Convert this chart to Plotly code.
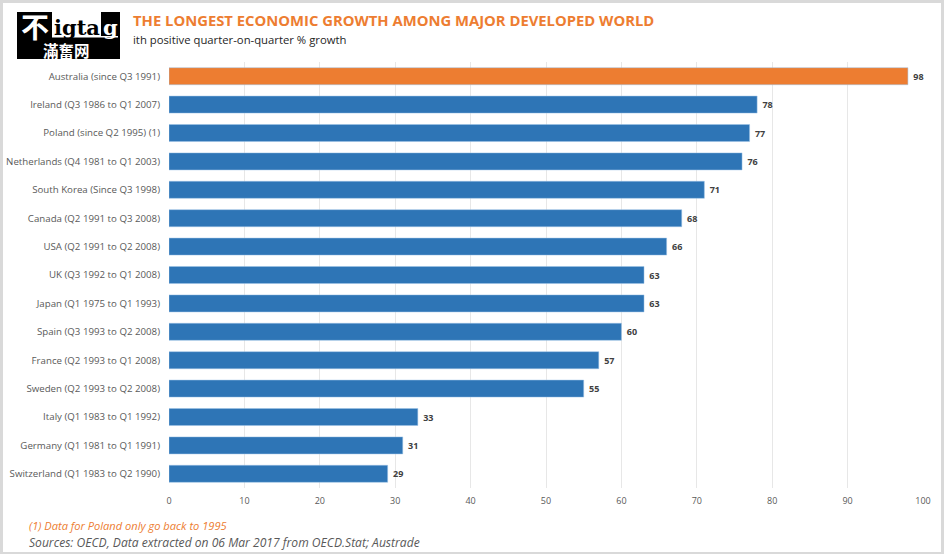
import plotly.graph_objects as go

categories = ["Australia (since Q3 1991)", "Ireland (Q3 1986 to Q1 2007)", "Poland (since Q2 1995) (1)",
              "Netherlands (Q4 1981 to Q1 2003)", "South Korea (Since Q3 1998)", "Canada (Q2 1991 to Q3 2008)",
              "USA (Q2 1991 to Q2 2008)", "UK (Q3 1992 to Q1 2008)", "Japan (Q1 1975 to Q1 1993)",
              "Spain (Q3 1993 to Q2 2008)", "France (Q2 1993 to Q1 2008)", "Sweden (Q2 1993 to Q2 2008)",
              "Italy (Q1 1983 to Q1 1992)", "Germany (Q1 1981 to Q1 1991)", "Switzerland (Q1 1983 to Q2 1990)"]
quarters = [98, 78, 77, 76, 71, 68, 66, 63, 63, 60, 57, 55, 33, 31, 29]
tick_values = list(range(0, 101, 10))
title_text = "THE LONGEST ECONOMIC GROWTH AMONG MAJOR DEVELOPED WORLD"
subtitle_text = "ith positive quarter-on-quarter % growth"
note_text = "(1) Data for Poland only go back to 1995"
source_text = "Sources: OECD, Data extracted on 06 Mar 2017 from OECD.Stat; Austrade"

W, H = 944, 554
L, R, T, B = 169, 923, 62, 488
FONT = "Open Sans"
ORANGE = "#ed7d31"
BLUE = "#2e75b6"
GREY = "#595959"

def px(x):
    return (x - L) / (R - L)

def py(y):
    return (B - y) / (B - T)

def rect(x0, y0, x1, y1, color):
    return dict(type="rect", xref="paper", yref="paper", x0=px(x0), x1=px(x1), y0=py(y0), y1=py(y1),
                fillcolor=color, line_width=0, layer="below")

def label(x, y, text, size, color, anchor="left", bold=False, italic=False, family=FONT):
    t = f"<b>{text}</b>" if bold else text
    t = f"<i>{t}</i>" if italic else t
    return dict(xref="paper", yref="paper", x=px(x), y=py(y), text=t, showarrow=False, xanchor=anchor,
                yanchor="middle", font=dict(size=size, color=color, family=family))

bar_colors = [ORANGE] + [BLUE] * (len(quarters) - 1)

fig = go.Figure(go.Bar(
    x=quarters, y=categories, orientation="h", width=0.6,
    marker=dict(color=bar_colors, line=dict(color="#9dc3e6", width=0.5)),
    text=[f"<b>\u00a0{v}</b>" for v in quarters], textposition="outside", cliponaxis=False,
    textfont=dict(size=9, color="#404040", family=FONT),
))

shapes = [
    rect(3, 3, 941, 552, "white"),
    rect(17, 12, 120, 59, "black"),
    rect(52, 12, 101, 37, "white"),
    rect(52, 36, 118, 37.5, "white"),
]
annotations = [
    label(131, 20, title_text, 14.8, ORANGE, bold=True),
    label(131, 39, subtitle_text, 11.3, "#262626"),
    label(27, 525, note_text, 11.1, ORANGE, italic=True),
    label(27, 542, source_text, 12.1, GREY, italic=True),
    label(35, 26, "<b>不</b>", 28, "white", anchor="center", family="Noto Sans CJK TC"),
    label(77, 27, "<b>igta</b>", 21, "black", anchor="center", family="DejaVu Serif"),
    label(110, 27, "<b>g</b>", 21, "white", anchor="center", family="DejaVu Serif"),
    label(66, 50, "<b>滿奮网</b>", 15.5, "white", anchor="center", family="Noto Sans CJK TC"),
]

fig.update_layout(
    width=W, height=H, autosize=False,
    margin=dict(l=L, r=W - R, t=T, b=H - B, pad=0),
    paper_bgcolor="#d9d9d9", plot_bgcolor="rgba(0,0,0,0)",
    showlegend=False, shapes=shapes, annotations=annotations,
    font=dict(family=FONT),
    xaxis=dict(range=[0, 100], tickvals=tick_values, showgrid=True, gridcolor="#e7e7e7", gridwidth=1,
               zeroline=False, showline=False, ticks="", ticklabelstandoff=6, tickfont=dict(size=9, color=GREY)),
    yaxis=dict(autorange="reversed", showgrid=False, zeroline=False, showline=False, ticks="",
               automargin=False, ticklabelstandoff=8, tickfont=dict(size=9.7, color=GREY)),
)

fig.write_html("out.html", config={"displayModeBar": False},
               post_script="document.body.style.margin='0';document.body.style.overflow='hidden';")
